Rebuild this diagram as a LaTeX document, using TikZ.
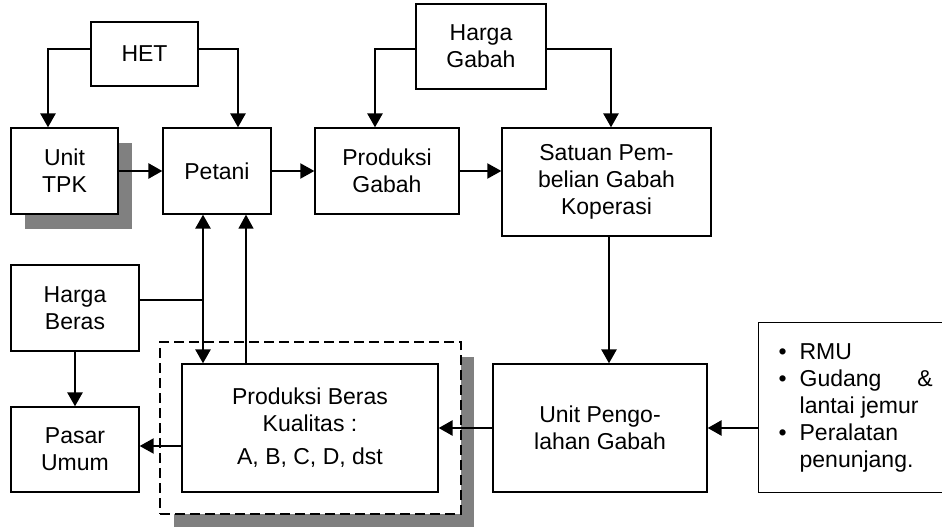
\documentclass[tikz,border=0pt]{standalone}
\usepackage{fontspec}
\setmainfont{Liberation Sans}
\usetikzlibrary{arrows.meta}
\begin{document}
\begin{tikzpicture}[x=1pt,y=-1pt,
  txt/.style={font=\fontsize{23}{27}\selectfont},
  box/.style={txt, draw, line width=1.3pt, fill=white, inner sep=0pt, align=center},
  shadowbox/.style={fill=black!50, draw=none, inner sep=0pt},
  dashbox/.style={draw, fill=white, line width=2.5pt, dash pattern=on 10pt off 5pt, inner sep=0pt},
  tip/.tip={Triangle[length=14pt,width=15pt]},
  arr/.style={line width=2.7pt, -tip},
  marr/.style={line width=2pt, -tip},
  tarr/.style={line width=1.3pt, -tip},
  tline/.style={line width=1.3pt},
]
\useasboundingbox (0,0) rectangle (942,529);
\clip (0,0) rectangle (942,529);

% shadows
\node[shadowbox, minimum width=107pt, minimum height=86pt] (tpks) at (78.5,186) {};
\node[shadowbox, minimum width=300pt, minimum height=170pt] (grps) at (324,442) {};

% boxes
\node[box, minimum width=107pt, minimum height=64pt] (het) at (144.5,54) {HET};
\node[box, minimum width=107pt, minimum height=86pt] (tpk) at (64.5,171) {Unit\\TPK};
\node[box, minimum width=108pt, minimum height=86pt] (petani) at (217,171) {Petani};
\node[box, minimum width=144pt, minimum height=86pt] (pgabah) at (387,171) {Produksi\\Gabah};
\node[box, minimum width=130pt, minimum height=85pt] (hg) at (481,46.5) {Harga\\Gabah};
\node[box, minimum width=209pt, minimum height=108pt] (satuan) at (606.5,182) {Satuan Pem-\\belian Gabah\\Koperasi};
\node[box, minimum width=128pt, minimum height=86pt] (hb) at (75,308) {Harga\\Beras};
\node[box, minimum width=128pt, minimum height=85pt] (pasar) at (75,449.5) {Pasar\\Umum};
\node[dashbox, minimum width=301pt, minimum height=172pt] (grp) at (310.5,428) {};
\node[box, minimum width=256pt, minimum height=128pt] (pberas) at (310,428) {Produksi Beras\\Kualitas :\\[6pt]A, B, C, D, dst};
\node[box, minimum width=214pt, minimum height=128pt] (upg) at (600,428) {Unit Pengo-\\lahan Gabah};
\node[box, anchor=north west, inner xsep=20pt, minimum height=170pt] (rmu) at (758,322) {%
\begin{tabular}{@{}p{21pt}@{}p{133pt}@{}}
\textbullet & RMU\\
\textbullet & Gudang\hfill\&\\
 & lantai jemur\\
\textbullet & Peralatan\\
 & penunjang.
\end{tabular}};

% connectors
\coordinate (j) at (203,300);
\draw[arr] ([yshift=5pt]het.west) -| (tpk.north -| 48,0);
\draw[arr] ([yshift=5pt]het.east) -| (petani.north -| 238,0);
\draw[arr] (tpk.east) -- (petani.west);
\draw[marr] (petani.east) -- (pgabah.west);
\draw[marr] (pgabah.east) -- (satuan.west |- pgabah.east);
\draw[arr] ([yshift=-2.5pt]hg.west) -| (pgabah.north -| 375,0);
\draw[arr] ([yshift=-2.5pt]hg.east) -| (satuan.north -| 611,0);
\draw[arr] (satuan.south -| 609,0) -- (upg.north -| 609,0);
\draw[arr] (rmu.west |- 0,428) -- (upg.east |- 0,428);
\draw[arr] (upg.west) -- (pberas.east);
\draw[marr] (pberas.west |- 0,446) -- (pasar.east |- 0,446);
\draw[arr] (hb.south) -- (pasar.north);
\draw[line width=2.7pt, tip-tip] (petani.south -| j) -- (pberas.north -| j);
\draw[tarr] (pberas.north -| 246,0) -- (petani.south -| 246,0);
\draw[tline] (hb.east |- j) -- (j);
\end{tikzpicture}
\end{document}
